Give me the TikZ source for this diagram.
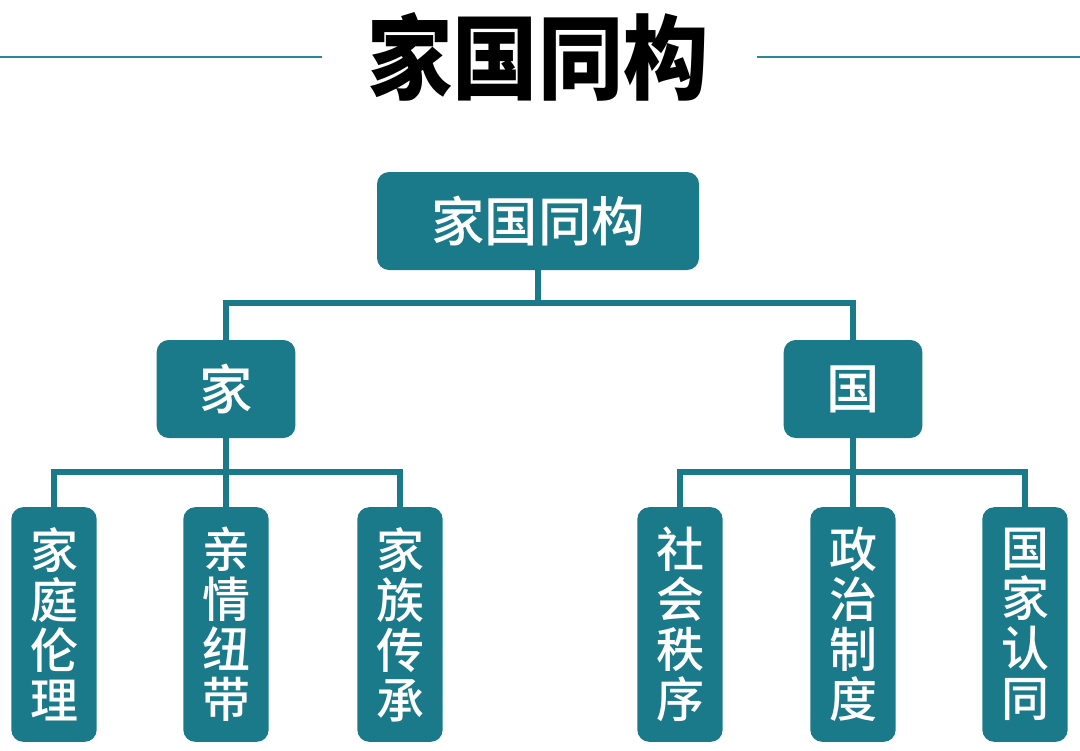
\documentclass[tikz,border=0pt]{standalone}
\usepackage{fontspec}
\newfontfamily\cjk{Noto Sans CJK SC Medium}
\newfontfamily\cjkbold{Noto Sans CJK SC Black}
\definecolor{teal1}{HTML}{1B7A8A}
\definecolor{tline}{HTML}{2A8699}
\begin{document}
\begin{tikzpicture}[x=0.75pt,y=-0.75pt,
  box/.style={fill=teal1,rounded corners=9pt,text=white,inner sep=0pt},
  topbox/.style={box,minimum width=241.5pt,minimum height=73.5pt,font=\cjk\fontsize{40}{40}\selectfont},
  midbox/.style={box,minimum width=104pt,minimum height=73.5pt,font=\cjk\fontsize{40}{40}\selectfont},
  leaf/.style={box,minimum width=64pt,minimum height=176pt,align=center,font=\cjk\fontsize{36}{37.5}\selectfont},
  conn/.style={draw=teal1,line width=4.2pt}]
\useasboundingbox[fill=white] (0,0) rectangle (1080,750);
% title
\node[font=\cjkbold\fontsize{64}{64}\selectfont,text=black,yscale=1.08] (title) at (538,57) {家国同构};
\coordinate (l1) at (0,57); \coordinate (l2) at (322,57);
\coordinate (r1) at (757,57); \coordinate (r2) at (1080,57);
\draw[tline,line width=2.2pt] (l1) -- (l2);
\draw[tline,line width=2.2pt] (r1) -- (r2);
% nodes
\node[topbox] (top) at (538,221) {家国同构};
\node[midbox] (jia) at (226,389) {家};
\node[midbox] (guo) at (853,389) {国};
\node[leaf] (a1) at (54,624.5) {家\\庭\\伦\\理};
\node[leaf] (a2) at (226,624.5) {亲\\情\\纽\\带};
\node[leaf] (a3) at (400,624.5) {家\\族\\传\\承};
\node[leaf] (b1) at (680,624.5) {社\\会\\秩\\序};
\node[leaf] (b2) at (853,624.5) {政\\治\\制\\度};
\node[leaf] (b3) at (1025,624.5) {国\\家\\认\\同};
% connectors
\coordinate (bus0) at (538,303);
\coordinate (busA) at (226,472);
\coordinate (busB) at (853,472);
\draw[conn] (top) -- (bus0) -| (jia);
\draw[conn] (bus0) -| (guo);
\draw[conn] (jia) -- (busA);
\draw[conn] (busA) -| (a1);
\draw[conn] (busA) -- (a2);
\draw[conn] (busA) -| (a3);
\draw[conn] (guo) -- (busB);
\draw[conn] (busB) -| (b1);
\draw[conn] (busB) -- (b2);
\draw[conn] (busB) -| (b3);
\end{tikzpicture}
\end{document}
